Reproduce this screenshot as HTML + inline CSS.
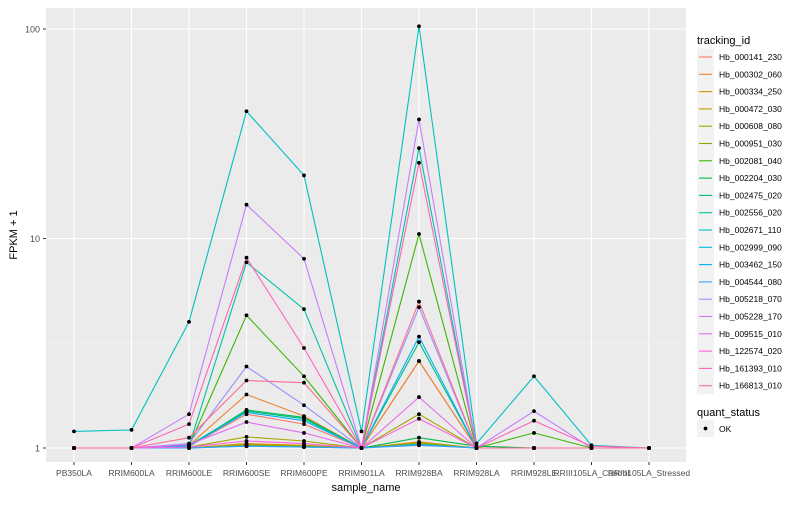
<!DOCTYPE html>
<html><head><meta charset="utf-8">
<style>
body{margin:0;background:#fff;font-family:"Liberation Sans",sans-serif;}
svg text{font-family:"Liberation Sans",sans-serif;}
</style></head>
<body>
<svg id="chart" width="800" height="500" xmlns="http://www.w3.org/2000/svg">
<rect x="0" y="0" width="800" height="500" fill="#fff"/>
<rect x="46" y="8" width="640" height="454" fill="#EBEBEB"/>
<g id="grid"></g>
<g id="lines"></g>
<g id="points"></g>
<g id="axes"></g>
<g id="legend"></g>
</svg>
<script>
const categories=["PB350LA","RRIM600LA","RRIM600LE","RRIM600SE","RRIM600PE","RRIM901LA","RRIM928BA","RRIM928LA","RRIM928LE","RRIII105LA_Control","RRIII105LA_Stressed"];
const seriesNames=["Hb_000141_230","Hb_000302_060","Hb_000334_250","Hb_000472_030","Hb_000608_080","Hb_000951_030","Hb_002081_040","Hb_002204_030","Hb_002475_020","Hb_002556_020","Hb_002671_110","Hb_002999_090","Hb_003462_150","Hb_004544_080","Hb_005218_070","Hb_005228_170","Hb_009515_010","Hb_122574_020","Hb_161393_010","Hb_166813_010"];
const colors=["#F8766D","#EA8331","#D89000","#C09B00","#A3A500","#7CAE00","#39B600","#00BB4E","#00BF7D","#00C1A3","#00BFC4","#00BAE0","#00B0F6","#35A2FF","#9590FF","#C77CFF","#E76BF3","#FA62DB","#FF62BC","#FF6C91"];
const s01=[1,1,1.02,1.45,1.3,1,2.6,1,1,1,1];
const s02=[1,1,1.03,1.8,1.42,1,2.6,1,1,1,1];
const s03=[1,1,1,1.05,1.03,1,1.07,1,1,1,1];
const s04=[1,1,1,1.04,1.02,1,1.06,1,1,1,1];
const s05=[1,1,1.01,1.13,1.08,1,1.45,1,1,1,1];
const s06=[1,1,1,1.03,1.02,1,1.05,1,1,1,1];
const s07=[1,1,1.02,4.3,2.2,1,10.5,1,1.18,1,1];
const s08=[1,1,1.02,1.52,1.4,1,1.12,1.02,1,1,1];
const s09=[1,1,1.03,1.5,1.38,1,3.2,1,1,1,1];
const s10=[1,1,1.02,7.7,4.6,1,27,1,1,1,1];
const s11=[1.2,1.22,4.0,40.5,20,1.2,103,1.05,2.2,1.03,1];
const s12=[1,1,1,1.02,1.01,1,1.04,1,1,1,1];
const s13=[1,1,1.02,1.48,1.35,1,3.4,1,1,1,1];
const s14=[1,1,1,1.02,1.01,1,1.03,1,1,1,1];
const s15=[1,1,1.05,2.45,1.6,1,4.7,1,1,1,1];
const s16=[1,1,1.45,14.5,8,1,37,1,1.5,1,1];
const s17=[1,1,1.04,1.33,1.18,1,1.75,1,1,1,1];
const s18=[1,1,1.01,1.08,1.05,1,1.38,1,1,1,1];
const s19=[1,1,1.3,8.1,3.0,1,23,1,1.35,1.02,1];
const s20=[1,1,1.12,2.1,2.05,1,5.0,1,1,1,1];
const seriesValues=[s01,s02,s03,s04,s05,s06,s07,s08,s09,s10,s11,s12,s13,s14,s15,s16,s17,s18,s19,s20];
const yTicks=[1,10,100];
const yTickLabels=["1","10","100"];

const NS="http://www.w3.org/2000/svg";
function el(tag,attrs,parent){const e=document.createElementNS(NS,tag);for(const k in attrs)e.setAttribute(k,attrs[k]);parent.appendChild(e);return e;}
const xScale=i=>74+i*57.5;
const yScale=v=>448-Math.log10(v)*209.5;
const grid=document.getElementById('grid'),lines=document.getElementById('lines'),pts=document.getElementById('points'),axes=document.getElementById('axes'),leg=document.getElementById('legend');
// minor grid
[-0.5,0.5,1.5,2.5].forEach(e=>{const y=yScale(Math.pow(10,e));if(y>8&&y<462){const l=el('line',{x1:46,x2:686,y1:y,y2:y,stroke:'#F5F5F5','stroke-width':0.6},grid);

}});
yTicks.forEach((t,i)=>{const y=yScale(t);const l=el('line',{x1:46,x2:686,y1:y,y2:y,stroke:'#fff','stroke-width':1.1},grid);


el('line',{x1:43,x2:46,y1:y,y2:y,stroke:'#333','stroke-width':1},axes);
const tx=el('text',{x:40,y:y+3.5,'text-anchor':'end','font-size':9,fill:'#4D4D4D'},axes);tx.textContent=yTickLabels[i];

});
categories.forEach((c,i)=>{const x=xScale(i);const l=el('line',{x1:x,x2:x,y1:8,y2:462,stroke:'#fff','stroke-width':1.1},grid);


el('line',{x1:x,x2:x,y1:462,y2:465,stroke:'#333','stroke-width':1},axes);
const tx=el('text',{x:x,y:476,'text-anchor':'middle','font-size':8.5,fill:'#4D4D4D'},axes);tx.textContent=c;

});
seriesValues.forEach((vals,si)=>{const d=vals.map((v,i)=>(i?'L':'M')+xScale(i).toFixed(1)+','+yScale(v).toFixed(1)).join(' ');
const p=el('path',{d:d,fill:'none',stroke:colors[si],'stroke-width':1.1},lines);


vals.forEach((v,i)=>{const c=el('circle',{cx:xScale(i),cy:yScale(v),r:1.9,fill:'#000'},pts);

});});
let t=el('text',{x:366,y:491,'text-anchor':'middle','font-size':11,fill:'#000'},axes);t.textContent='sample_name';


t=el('text',{x:0,y:0,'text-anchor':'middle','font-size':11,fill:'#000',transform:'translate(17,235) rotate(-90)'},axes);t.textContent='FPKM + 1';


t=el('text',{x:697,y:44,'font-size':11,fill:'#000'},leg);t.textContent='tracking_id';


seriesNames.forEach((n,i)=>{const y=57+i*17.3;const g=el('g',{},leg);


el('rect',{x:697,y:y-8.5,width:17,height:17,fill:'#F2F2F2'},g);
el('line',{x1:699,x2:712,y1:y,y2:y,stroke:colors[i],'stroke-width':1.1},g);
const tx=el('text',{x:719,y:y+3,'font-size':8.5,fill:'#000'},g);tx.textContent=n;});
t=el('text',{x:697,y:416,'font-size':11,fill:'#000'},leg);t.textContent='quant_status';


const g2=el('g',{},leg);


el('rect',{x:697,y:420,width:17,height:17,fill:'#F2F2F2'},g2);
el('circle',{cx:705.5,cy:428.5,r:1.9,fill:'#000'},g2);
const ok=el('text',{x:719,y:432,'font-size':8.5,fill:'#000'},g2);ok.textContent='OK';
</script>
</body></html>
